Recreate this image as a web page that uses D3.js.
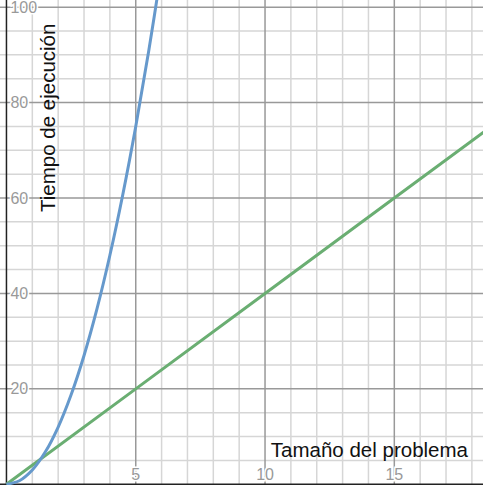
<!DOCTYPE html>
<html lang="es">
<head>
<meta charset="UTF-8">
<script src="https://d3js.org/d3.v7.min.js"></script>
<style>
    body { margin: 0; padding: 0; background: #fff; }
    svg { display: block; font-family: "Liberation Sans", Arial, sans-serif; }
    .tick-label { fill: #999; font-size: 16px; paint-order: stroke; stroke: #fff; stroke-width: 3px; }
    .axis-title { fill: #111; font-size: 20.5px; }
</style>
</head>
<body>
<div id="chart"></div>
<script>
    // data
    var cuadX = [0, 0.5, 1, 1.5, 2, 2.5, 3, 3.5, 4, 4.5, 5, 5.5, 6];
    var cuadY = [0, 0.75, 3, 6.75, 12, 18.75, 27, 36.75, 48, 60.75, 75, 90.75, 108];
    var linX = [0, 5, 10, 15, 18.5];
    var linY = [0, 20, 40, 60, 74];
    var xTicks = [5, 10, 15];
    var yTicks = [20, 40, 60, 80, 100];

    var width = 483, height = 485;

    var svg = d3.select("#chart")
        .append("svg")
        .attr("width", width)
        .attr("height", height);

    var x = d3.scaleLinear().domain([-0.25, 18.43]).range([0, width]);
    var y = d3.scaleLinear().domain([-0.15, 101.5]).range([height, 0]);

    // minor grid
    var minorX = d3.range(1, 19).filter(function (d) { return d % 5 != 0; });
    var minorY = d3.range(5, 101, 5).filter(function (d) { return d % 20 != 0; });

    var grid = svg.append("g");
    grid.selectAll(".mx").data(minorX).enter().append("line")
        .attr("x1", function (d) { return x(d); }).attr("x2", function (d) { return x(d); })
        .attr("y1", 0).attr("y2", height)
        .attr("stroke", "#d6d6d6").attr("stroke-width", 1.5);
    grid.selectAll(".my").data(minorY).enter().append("line")
        .attr("y1", function (d) { return y(d); }).attr("y2", function (d) { return y(d); })
        .attr("x1", 0).attr("x2", width)
        .attr("stroke", "#d6d6d6").attr("stroke-width", 1.5);

    // major grid
    grid.selectAll(".Mx").data(xTicks).enter().append("line")
        .attr("x1", function (d) { return x(d); }).attr("x2", function (d) { return x(d); })
        .attr("y1", 0).attr("y2", height)
        .attr("stroke", "#999").attr("stroke-width", 1.5);
    grid.selectAll(".My").data(yTicks).enter().append("line")
        .attr("y1", function (d) { return y(d); }).attr("y2", function (d) { return y(d); })
        .attr("x1", 0).attr("x2", width)
        .attr("stroke", "#999").attr("stroke-width", 1.5);

    // axes
    svg.append("line")
        .attr("x1", x(0)).attr("x2", x(0)).attr("y1", 0).attr("y2", height)
        .attr("stroke", "#222").attr("stroke-width", 1.5);
    svg.append("line")
        .attr("x1", 0).attr("x2", width).attr("y1", y(0)).attr("y2", y(0))
        .attr("stroke", "#222").attr("stroke-width", 1.5);

    // tick labels
    svg.selectAll(".yl").data(yTicks).enter().append("text")
        .attr("class", "tick-label")
        .attr("x", x(0) + 4)
        .attr("y", function (d) { return y(d); })
        .attr("dy", "0.35em")
        .text(function (d) { return d; });
    svg.selectAll(".xl").data(xTicks).enter().append("text")
        .attr("class", "tick-label")
        .attr("x", function (d) { return x(d); })
        .attr("y", 480)
        .attr("text-anchor", "middle")
        .text(function (d) { return d; });

    // curves
    var line = d3.line()
        .x(function (d) { return x(d[0]); })
        .y(function (d) { return y(d[1]); });

    svg.append("path")
        .datum(linX.map(function (d, i) { return [d, linY[i]]; }))
        .attr("fill", "none")
        .attr("stroke", "#6aae72")
        .attr("stroke-width", 3)
        .attr("d", line);

    svg.append("path")
        .datum(cuadX.map(function (d, i) { return [d, cuadY[i]]; }))
        .attr("fill", "none")
        .attr("stroke", "#6699cc")
        .attr("stroke-width", 3)
        .attr("d", line.curve(d3.curveCatmullRom));

    // axis titles
    svg.append("text")
        .attr("class", "axis-title")
        .attr("x", 468)
        .attr("y", 457)
        .attr("text-anchor", "end")
        .text("Tamaño del problema");

    svg.append("text")
        .attr("class", "axis-title")
        .attr("transform", "translate(55,212) rotate(-90)")
        .text("Tiempo de ejecución");
</script>
</body>
</html>
